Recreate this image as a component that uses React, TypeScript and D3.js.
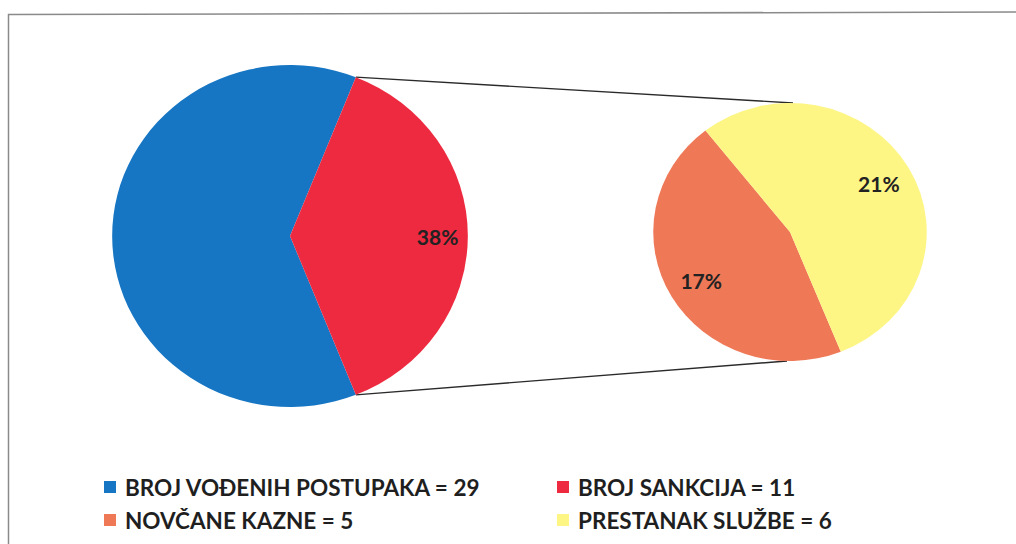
import React from 'react';
import * as d3 from 'd3';

// legend entries as printed on the chart
const legendNames = ['BROJ VOĐENIH POSTUPAKA', 'BROJ SANKCIJA', 'NOVČANE KAZNE', 'PRESTANAK SLUŽBE'];
const legendValues = [29, 11, 5, 6];
const colors = ['#1776c3', '#ee2a40', '#ef7857', '#fdf584'];

// main pie: remaining procedures vs sanctions (sanctions split into the second pie)
const mainValues = [18, 11];
// secondary pie: fines, dismissals
const subValues = [5, 6];
// percentages in the chart are relative to the number of procedures
const total = 29;

const W = 1016;
const H = 544;

const main = { cx: 290, cy: 236, r: 171, sx: 1.04 };
const sub = { cx: 790, cy: 232, r: 129, sx: 1.06 };

const App = () => {
  const fmt = (v: number) => `${Math.round((v / total) * 100)}%`;

  // red slice centred pointing right (angle PI/2)
  const mainSum = d3.sum(mainValues);
  const redSpan = (mainValues[1] / mainSum) * Math.PI * 2;
  const blueSpan = (mainValues[0] / mainSum) * Math.PI * 2;
  const mainStart = Math.PI / 2 - redSpan / 2 - blueSpan;
  const mainPie = d3.pie<number>().sort(null).startAngle(mainStart).endAngle(mainStart + Math.PI * 2);
  const mainArcs = mainPie(mainValues);
  const mainArc = d3.arc<d3.PieArcDatum<number>>().innerRadius(0).outerRadius(main.r);
  const mainLabelArc = d3.arc<d3.PieArcDatum<number>>().innerRadius(main.r * 0.83).outerRadius(main.r * 0.83);

  // orange slice centred towards lower left (240deg)
  const orangeSpan = (subValues[0] / d3.sum(subValues)) * Math.PI * 2;
  const subStart = (240 * Math.PI) / 180 - orangeSpan / 2;
  const subPie = d3.pie<number>().sort(null).startAngle(subStart).endAngle(subStart + Math.PI * 2);
  const subArcs = subPie(subValues);
  const subArc = d3.arc<d3.PieArcDatum<number>>().innerRadius(0).outerRadius(sub.r);
  const subLabelArc = d3.arc<d3.PieArcDatum<number>>().innerRadius(sub.r * 0.75).outerRadius(sub.r * 0.75);

  // connector lines: red slice edges -> top/bottom of secondary pie
  const red = mainArcs[1];
  const edge = (a: number) => [
    main.cx + Math.sin(a) * main.r * main.sx,
    main.cy - Math.cos(a) * main.r,
  ];
  const [tx, ty] = edge(red.startAngle);
  const [bx, by] = edge(red.endAngle);

  const legendPos = [
    { x: 104, y: 487 },
    { x: 557, y: 487 },
    { x: 104, y: 520 },
    { x: 557, y: 520 },
  ];

  const font = 'Lato, "Open Sans", sans-serif';

  return (
    <div style={{ position: 'fixed', left: 0, top: 0 }}>
      <svg width={W} height={H} style={{ display: 'block', background: '#fff' }}>
        {/* chart frame */}
        <line x1={8} y1={14.5} x2={W} y2={12} stroke="#8a8a8a" strokeWidth={1.5} />
        <line x1={8.5} y1={14} x2={8.5} y2={H} stroke="#8a8a8a" strokeWidth={1.5} />

        <line x1={tx} y1={ty} x2={sub.cx + 3} y2={sub.cy - sub.r} stroke="#2a2a2a" strokeWidth={1.4} />
        <line x1={bx} y1={by} x2={sub.cx - 3} y2={sub.cy + sub.r} stroke="#2a2a2a" strokeWidth={1.4} />

        <g transform={`translate(${main.cx},${main.cy}) scale(${main.sx},1)`}>
          {mainArcs.map((d, i) => (
            <path key={i} d={mainArc(d) || ''} fill={colors[i]} />
          ))}
        </g>
        <text
          x={main.cx + mainLabelArc.centroid(red)[0] * main.sx}
          y={main.cy + mainLabelArc.centroid(red)[1]}
          textAnchor="middle"
          dominantBaseline="central"
          fontFamily={font}
          fontWeight="bold"
          fontSize={21}
          fill="#222"
        >
          {fmt(mainValues[1])}
        </text>

        <g transform={`translate(${sub.cx},${sub.cy}) scale(${sub.sx},1)`}>
          {subArcs.map((d, i) => (
            <path key={i} d={subArc(d) || ''} fill={colors[i + 2]} />
          ))}
        </g>
        {subArcs.map((d, i) => {
          const [lx, ly] = subLabelArc.centroid(d);
          return (
            <text
              key={i}
              x={sub.cx + lx * sub.sx}
              y={sub.cy + ly}
              textAnchor="middle"
              dominantBaseline="central"
              fontFamily={font}
              fontWeight="bold"
              fontSize={21}
              fill="#222"
            >
              {fmt(subValues[i])}
            </text>
          );
        })}

        {legendNames.map((name, i) => (
          <g key={name} transform={`translate(${legendPos[i].x},${legendPos[i].y})`}>
            <rect x={0} y={-6} width={12} height={12} fill={colors[i]} />
            <text
              x={21}
              y={0}
              dominantBaseline="central"
              fontFamily={font}
              fontWeight="bold"
              fontSize={22.5}
              fill="#1f1f1f"
            >
              {`${name} = ${legendValues[i]}`}
            </text>
          </g>
        ))}
      </svg>
    </div>
  );
};

export default App;
